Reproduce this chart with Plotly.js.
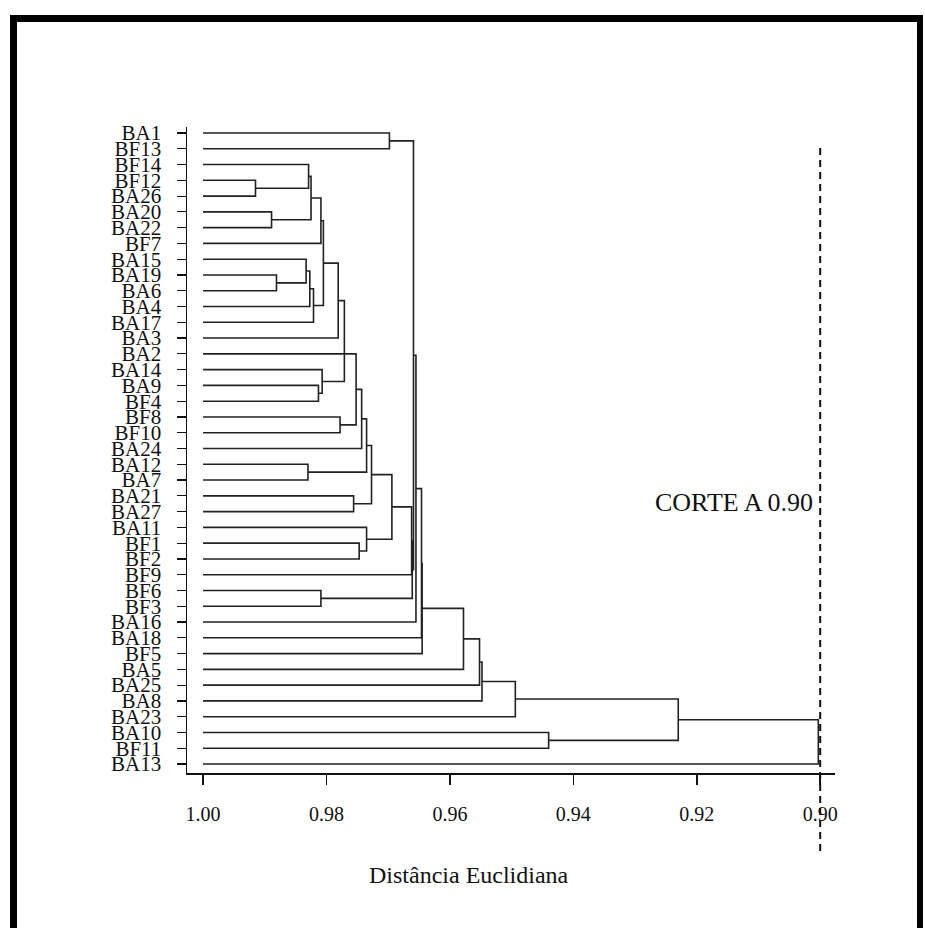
<!DOCTYPE html>
<html><head><meta charset="utf-8">
<script src="https://cdn.plot.ly/plotly-3.0.1.min.js"></script>
<style>
html,body{margin:0;padding:0;background:#fff;}
#chart{position:absolute;left:0;top:0;width:925px;height:928px;}
#frame{position:absolute;left:10px;top:15px;width:913px;height:913px;border-left:7px solid #000;border-top:7px solid #000;border-right:6px solid #000;box-sizing:border-box;pointer-events:none;}
</style></head>
<body><div id="chart"></div><div id="frame"></div>
<script>
// Leaf labels, top to bottom
const labels = ['BA1','BF13','BF14','BF12','BA26','BA20','BA22','BF7','BA15','BA19','BA6','BA4','BA17','BA3','BA2','BA14','BA9','BF4','BF8','BF10','BA24','BA12','BA7','BA21','BA27','BA11','BF1','BF2','BF9','BF6','BF3','BA16','BA18','BF5','BA5','BA25','BA8','BA23','BA10','BF11','BA13'];
// Merges: node Ni joins mergeLeft[i] and mergeRight[i] at mergeHeight[i]
const mergeLeft  = ['BA1','BF12','BF14','BA20','N2','N4','BA19','BA15','N7','N8','N5','N10','BA9','BA14','N11','BF8','BA2','N16','BA12','N17','BA21','N19','BF1','BA11','N21','N24','BF6','N25','N0','N28','N29','N30','N31','N32','N33','N34','BA10','N35','N37'];
const mergeRight = ['BF13','BA26','N1','BA22','N3','BF7','BA6','N6','BA4','BA17','N9','BA3','BF4','N12','N13','BF10','N15','BA24','BA7','N18','BA27','N20','BF2','N22','N23','BF9','BF3','N26','N27','BA16','BA18','BF5','BA5','BA25','BA8','BA23','BF11','N36','BA13'];
const mergeHeight = [0.9698,0.9915,0.9829,0.9889,0.9825,0.9809,0.9881,0.9833,0.9827,0.9821,0.9805,0.9781,0.9813,0.9807,0.9771,0.9778,0.9752,0.9743,0.9830,0.9735,0.9756,0.9727,0.9747,0.9735,0.9694,0.9662,0.9809,0.9661,0.9659,0.9655,0.9646,0.9645,0.9578,0.9552,0.9548,0.9494,0.9440,0.9230,0.9003];
const leafHeight = 1.00;
const cutValue = 0.90;
const cutLabel = 'CORTE A 0.90';
const xTickValues = [1.00,0.98,0.96,0.94,0.92,0.90];
const xTickLabels = ['1.00','0.98','0.96','0.94','0.92','0.90'];
const xTitle = 'Distância Euclidiana';

const pos = {};
labels.forEach((l,i)=>{pos[l]={y:i,h:leafHeight};});
const xs=[], ys=[];
mergeHeight.forEach((h,i)=>{
  const a=pos[mergeLeft[i]], b=pos[mergeRight[i]];
  xs.push(a.h,h,h,b.h,null);
  ys.push(a.y,a.y,b.y,b.y,null);
  pos['N'+i]={y:(a.y+b.y)/2,h:h};
});

const trace={x:xs,y:ys,type:'scatter',mode:'lines',line:{color:'#222',width:1.6},hoverinfo:'skip',showlegend:false};
const serif='Liberation Serif, Times New Roman, serif';
const layout={
  width:925,height:928,
  margin:{l:187,r:90,t:127,b:155},
  paper_bgcolor:'#fff',plot_bgcolor:'#fff',
  showlegend:false,
  xaxis:{range:[1.0026,0.8976],showline:true,linecolor:'#111',linewidth:1.5,ticks:'outside',ticklen:10,tickwidth:1.5,tickcolor:'#111',
    tickvals:xTickValues,ticktext:xTickLabels,tickfont:{family:serif,size:20,color:'#111'},ticklabelstandoff:12,showgrid:false,zeroline:false},
  yaxis:{range:[40.57,-0.38],showline:true,linecolor:'#111',linewidth:1.5,ticks:'outside',ticklen:9,tickwidth:1.2,tickcolor:'#111',
    tickvals:labels.map((l,i)=>i),ticktext:labels,tickfont:{family:serif,size:21,color:'#111'},ticklabelstandoff:11,showgrid:false,zeroline:false},
  shapes:[{type:'line',xref:'x',yref:'paper',x0:cutValue,x1:cutValue,y0:0.9675,y1:-0.1223,line:{color:'#111',width:2,dash:'7px,5px'}}],
  annotations:[
    {text:cutLabel,xref:'x',x:cutValue,xanchor:'right',xshift:-5,yref:'paper',y:0.418,yanchor:'middle',showarrow:false,font:{family:serif,size:26,color:'#111'}},
    {text:xTitle,xref:'paper',x:0.4352,xanchor:'center',yref:'paper',y:-0.158,yanchor:'middle',showarrow:false,font:{family:serif,size:24,color:'#111'}}
  ]
};
Plotly.newPlot('chart',[trace],layout,{staticPlot:true,displayModeBar:false});
</script>
</body></html>
